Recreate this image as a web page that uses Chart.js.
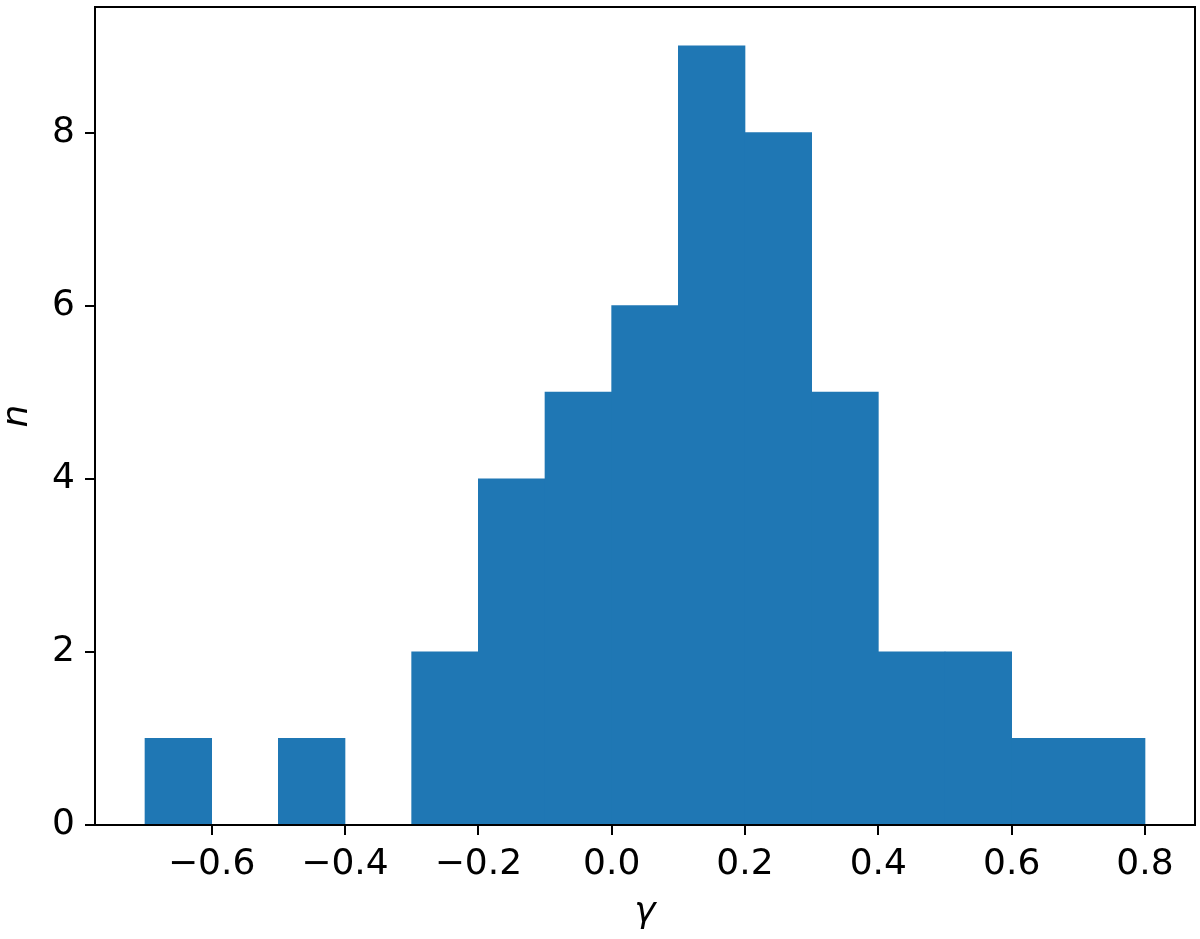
<!DOCTYPE html>
<html>
<head>
<meta charset="utf-8">
<script src="https://cdn.jsdelivr.net/npm/chart.js@4.4.1/dist/chart.umd.min.js"></script>
<style>
  html, body { margin: 0; padding: 0; background: #ffffff; }
  #wrap { width: 1200px; height: 939px; position: relative; }
</style>
</head>
<body>
<div id="wrap"><canvas id="c" width="1200" height="939"></canvas></div>
<script>
// Histogram bins (centres) and counts
const binCenters = [-0.65, -0.55, -0.45, -0.35, -0.25, -0.15, -0.05, 0.05, 0.15, 0.25, 0.35, 0.45, 0.55, 0.65, 0.75];
const counts     = [1, 0, 1, 0, 2, 4, 5, 6, 9, 8, 5, 2, 2, 1, 1];
const xTickValues = [-0.6, -0.4, -0.2, 0.0, 0.2, 0.4, 0.6, 0.8];
const yTickValues = [0, 2, 4, 6, 8];
const xTitle = 'γ';
const yTitle = 'n';

const FONT = 'DejaVu Sans';
const FS = 36;

const framePlugin = {
  id: 'frame',
  afterDraw(chart) {
    const a = chart.chartArea, ctx = chart.ctx;
    ctx.save();
    ctx.strokeStyle = '#000';
    ctx.lineWidth = 2;
    ctx.strokeRect(a.left, a.top, a.right - a.left, a.bottom - a.top);
    ctx.restore();
  }
};

function fmt(v) {
  const s = Math.abs(v).toFixed(1);
  return (v < -1e-9 ? '\u2212' : '') + s;
}

function zeroPad(scale) {
  scale.paddingTop = 0; scale.paddingBottom = 0;
  scale.paddingLeft = 0; scale.paddingRight = 0;
}

new Chart(document.getElementById('c'), {
  type: 'bar',
  data: {
    datasets: [{
      data: binCenters.map((x, i) => ({ x: x, y: counts[i] })),
      backgroundColor: '#1f77b4',
      borderWidth: 0,
      barPercentage: 1.0,
      categoryPercentage: 1.0
    }]
  },
  options: {
    responsive: false,
    animation: false,
    layout: { padding: { top: 7, right: 5, left: 0, bottom: 0 } },
    plugins: { legend: { display: false }, tooltip: { enabled: false } },
    scales: {
      x: {
        type: 'linear',
        offset: false,
        min: -0.775,
        max: 0.875,
        afterBuildTicks(scale) { scale.ticks = xTickValues.map(v => ({ value: v })); },
        afterFit(scale) { scale.height = 114; zeroPad(scale); },
        ticks: {
          callback: (v) => fmt(v),
          font: { family: FONT, size: FS },
          color: '#000',
          padding: 8,
          maxRotation: 0,
          autoSkip: false
        },
        grid: { offset: false, drawOnChartArea: false, drawTicks: true, tickLength: 10, tickWidth: 2, tickColor: '#000', lineWidth: 2, color: '#000' },
        border: { display: false },
        title: { display: true, text: xTitle, font: { family: FONT, size: FS, style: 'italic', lineHeight: 1 }, color: '#000', padding: { top: 0, bottom: 8 } }
      },
      y: {
        type: 'linear',
        min: 0,
        max: 9.45,
        afterBuildTicks(scale) { scale.ticks = yTickValues.map(v => ({ value: v })); },
        afterFit(scale) { scale.width = 95; zeroPad(scale); },
        ticks: {
          callback: (v) => String(v),
          font: { family: FONT, size: FS },
          color: '#000',
          padding: 10
        },
        grid: { drawOnChartArea: false, drawTicks: true, tickLength: 10, tickWidth: 2, tickColor: '#000', lineWidth: 2, color: '#000' },
        border: { display: false },
        title: { display: true, text: yTitle, font: { family: FONT, size: FS, style: 'italic', lineHeight: 1 }, color: '#000', padding: { top: 0, bottom: 0 } }
      }
    }
  },
  plugins: [framePlugin]
});
</script>
</body>
</html>
